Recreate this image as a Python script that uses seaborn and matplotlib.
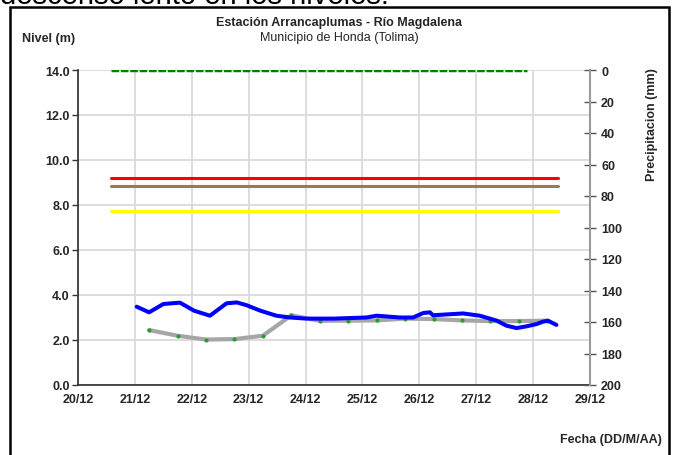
import pandas as pd
import matplotlib.pyplot as plt
import matplotlib.dates as mdates
import seaborn as sns
from matplotlib.patches import Rectangle

sns.set_theme(style="white")
plt.rcParams['font.family'] = ['Liberation Sans', 'DejaVu Sans']

# Nivel observado (m), serie azul
nivel_fechas = ["2015-12-21 00:45", "2015-12-21 06:00", "2015-12-21 12:00", "2015-12-21 19:00",
                "2015-12-22 01:00", "2015-12-22 07:40", "2015-12-22 14:40", "2015-12-22 19:00",
                "2015-12-22 23:00", "2015-12-23 05:00", "2015-12-23 11:40", "2015-12-23 17:30",
                "2015-12-24 00:30", "2015-12-24 11:45", "2015-12-25 01:40", "2015-12-25 06:00",
                "2015-12-25 15:50", "2015-12-25 21:20", "2015-12-26 01:40", "2015-12-26 04:30",
                "2015-12-26 05:45", "2015-12-26 18:30", "2015-12-27 01:30", "2015-12-27 08:40",
                "2015-12-27 12:40", "2015-12-27 17:00", "2015-12-27 21:20", "2015-12-28 01:30",
                "2015-12-28 04:00", "2015-12-28 06:15", "2015-12-28 09:50"]
nivel_m = [3.48, 3.23, 3.60, 3.66, 3.30, 3.08, 3.63, 3.67,
           3.55, 3.30, 3.08, 3.00, 2.95, 2.95, 3.00, 3.08,
           3.00, 3.00, 3.20, 3.23, 3.10, 3.18, 3.08, 2.86,
           2.64, 2.53, 2.61, 2.71, 2.81, 2.86, 2.67]

# Nivel de referencia (m), serie gris con puntos verdes
ref_fechas = ["2015-12-21 06:00", "2015-12-21 18:00", "2015-12-22 06:00", "2015-12-22 18:00",
              "2015-12-23 06:00", "2015-12-23 18:00", "2015-12-24 06:00", "2015-12-24 18:00",
              "2015-12-25 06:00", "2015-12-25 18:00", "2015-12-26 06:00", "2015-12-26 18:00",
              "2015-12-27 06:00", "2015-12-27 18:00", "2015-12-28 06:00"]
ref_m = [2.44, 2.19, 2.02, 2.04, 2.19, 3.10, 2.85, 2.86,
         2.87, 2.95, 2.93, 2.87, 2.84, 2.84, 2.86]

# Umbrales de alerta (m)
umbral_nombres = ["roja", "naranja", "amarilla"]
umbral_m = [9.2, 8.85, 7.75]
umbral_colores = ["#FF0000", "#A0784F", "#FFFF00"]
umbral_inicio = "2015-12-20 14:00"
umbral_fin = "2015-12-28 10:30"

# Precipitacion (mm)
precip_fechas = ["2015-12-20 14:00", "2015-12-27 21:20"]
precip_mm = [0, 0]

fechas_ticks = pd.date_range("2015-12-20", "2015-12-29", freq="D")

df_nivel = pd.DataFrame({"fecha": pd.to_datetime(nivel_fechas), "nivel": nivel_m})
df_ref = pd.DataFrame({"fecha": pd.to_datetime(ref_fechas), "nivel": ref_m})
df_precip = pd.DataFrame({"fecha": pd.to_datetime(precip_fechas), "mm": precip_mm})

fig = plt.figure(figsize=(6.79, 4.56), dpi=100)
ax = fig.add_axes([78 / 679, 1 - 386 / 456, 512 / 679, 315 / 456])

# umbrales
for nombre, nivel, color in zip(umbral_nombres, umbral_m, umbral_colores):
    df_u = pd.DataFrame({"fecha": pd.to_datetime([umbral_inicio, umbral_fin]), "nivel": [nivel, nivel]})
    sns.lineplot(data=df_u, x="fecha", y="nivel", color=color, linewidth=2.2, ax=ax)

# series de nivel
sns.lineplot(data=df_ref, x="fecha", y="nivel", color="#A6A6A6", linewidth=3, ax=ax,
             marker="o", markersize=3, markerfacecolor="#2E9B2E", markeredgewidth=0)
sns.lineplot(data=df_nivel, x="fecha", y="nivel", color="#0000FF", linewidth=2.9, ax=ax)

ax.set_xlim(fechas_ticks[0], fechas_ticks[-1])
ax.set_ylim(0, 14)
ax.set_yticks([0, 2, 4, 6, 8, 10, 12, 14])
ax.set_yticklabels([f"{v:.1f}" for v in [0, 2, 4, 6, 8, 10, 12, 14]])
ax.set_xticks(fechas_ticks)
ax.xaxis.set_major_formatter(mdates.DateFormatter("%d/%m"))
ax.grid(True, color="#DADADA", linewidth=1.3)
ax.set_xlabel("")
ax.set_ylabel("")
for s in ["top", "right"]:
    ax.spines[s].set_visible(False)
ax.spines["left"].set_color("#333333")
ax.spines["bottom"].set_color("#333333")
ax.tick_params(axis="both", which="both", direction="out", length=4, width=1,
               color="#333333", labelsize=9, pad=2)
for lab in ax.get_xticklabels() + ax.get_yticklabels():
    lab.set_fontweight("bold")

# eje de precipitacion
ax2 = ax.twinx()
sns.lineplot(data=df_precip, x="fecha", y="mm", color="#008000", linewidth=2.5,
             linestyle=(0, (2.2, 0.5)), ax=ax2)
ax2.set_ylim(200, 0)
ax2.set_yticks(range(0, 201, 20))
ax2.set_ylabel("")
ax2.grid(False)
for s in ["top", "left", "bottom"]:
    ax2.spines[s].set_visible(False)
ax2.spines["right"].set_color("#999999")
ax2.spines["right"].set_linewidth(1.5)
ax2.tick_params(axis="y", direction="inout", length=8, width=1, color="#555555",
                labelsize=9, pad=4)
for lab in ax2.get_yticklabels():
    lab.set_fontweight("bold")

# textos
fig.text(0.5, 1 - 23 / 456, "Estación Arrancaplumas - Río Magdalena", ha="center", va="center",
         fontsize=9, fontweight="bold")
fig.text(0.5, 1 - 38 / 456, "Municipio de Honda (Tolima)", ha="center", va="center", fontsize=9)
fig.text(22 / 679, 1 - 39 / 456, "Nivel (m)", ha="left", va="center", fontsize=9, fontweight="bold")
fig.text(652 / 679, 1 - 125 / 456, "Precipitacion (mm)", ha="center", va="center", rotation=90,
         fontsize=9, fontweight="bold")
fig.text(662 / 679, 1 - 440 / 456, "Fecha (DD/M/AA)", ha="right", va="center", fontsize=9,
         fontweight="bold")
# frase del documento original, cortada en el borde superior
fig.text(0.0, 1.0 + 4 / 456, "descenso lento en los niveles.", ha="left", va="center",
         fontsize=21, color="black")

# marco
fig.patches.append(Rectangle((10 / 679, -0.05), 659 / 679, 1.05 - 8 / 456, transform=fig.transFigure,
                             fill=False, edgecolor="black", linewidth=1.8))

fig.savefig("out.png", dpi=100)
